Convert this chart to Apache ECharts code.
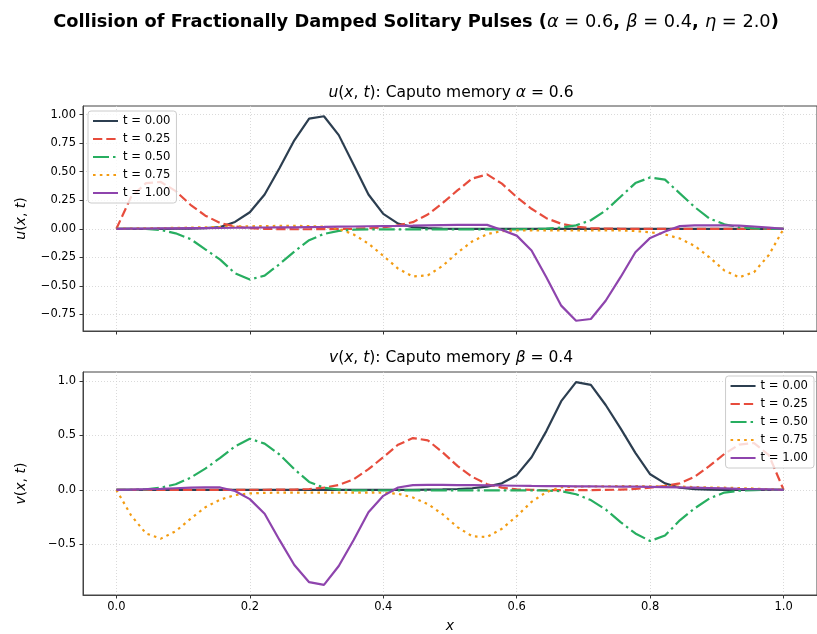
<!DOCTYPE html>
<html>
<head>
<meta charset="utf-8">
<script src="https://cdn.jsdelivr.net/npm/echarts@6.0.0/dist/echarts.min.js"></script>
<style>
    html, body {margin: 0; padding: 0; background: #fff;}
    #chart {width: 817px; height: 634px;}
</style>
</head>
<body>
<div id="chart"></div>
<script>
var FONT = 'DejaVu Sans';

// x grid (46 points on [0, 1])
var xGrid = [0, 0.0222, 0.0444, 0.0667, 0.0889, 0.1111, 0.1333, 0.1556, 0.1778, 0.2,
    0.2222, 0.2444, 0.2667, 0.2889, 0.3111, 0.3333, 0.3556, 0.3778, 0.4, 0.4222,
    0.4444, 0.4667, 0.4889, 0.5111, 0.5333, 0.5556, 0.5778, 0.6, 0.6222, 0.6444,
    0.6667, 0.6889, 0.7111, 0.7333, 0.7556, 0.7778, 0.8, 0.8222, 0.8444, 0.8667,
    0.8889, 0.9111, 0.9333, 0.9556, 0.9778, 1];

var tLabels = ['t = 0.00', 't = 0.25', 't = 0.50', 't = 0.75', 't = 1.00'];

// u(x,t)
var uT000 = [0, 0, 0, 0, 0.001, 0.002, 0.005, 0.015, 0.06, 0.145,
    0.30, 0.53, 0.775, 0.965, 0.985, 0.82, 0.56, 0.30, 0.13, 0.045,
    0.015, 0.005, 0.002, 0, 0, 0, 0, 0, 0, 0,
    0, 0, 0, 0, 0, 0, 0, 0, 0, 0,
    0, 0, 0, 0, 0, 0];
var uT025 = [0, 0.28, 0.40, 0.41, 0.33, 0.21, 0.115, 0.05, 0.02, 0.005,
    0, -0.003, -0.004, -0.004, -0.003, -0.002, 0, 0.004, 0.012, 0.03,
    0.058, 0.125, 0.225, 0.336, 0.44, 0.476, 0.395, 0.277, 0.175, 0.093,
    0.044, 0.018, 0.006, 0.002, 0, 0, 0, 0, 0, 0,
    0, 0, 0, 0, 0, 0];
var uT050 = [0, 0, -0.002, -0.01, -0.04, -0.09, -0.18, -0.27, -0.39, -0.445,
    -0.41, -0.31, -0.20, -0.10, -0.045, -0.018, -0.008, -0.005, -0.005, -0.005,
    -0.005, -0.005, -0.005, -0.005, -0.005, -0.005, -0.005, -0.005, -0.003, 0.002,
    0.01, 0.03, 0.075, 0.16, 0.28, 0.40, 0.45, 0.43, 0.31, 0.19,
    0.09, 0.04, 0.012, 0.003, 0, 0];
var uT075 = [0, 0.002, 0.004, 0.006, 0.008, 0.01, 0.013, 0.016, 0.02, 0.022,
    0.024, 0.025, 0.025, 0.024, 0.018, 0, -0.05, -0.13, -0.237, -0.349,
    -0.418, -0.408, -0.325, -0.21, -0.111, -0.047, -0.02, -0.015, -0.015, -0.015,
    -0.015, -0.015, -0.015, -0.015, -0.015, -0.02, -0.03, -0.05, -0.085, -0.15,
    -0.25, -0.365, -0.425, -0.38, -0.23, 0];
var uT100 = [0, 0.001, 0.002, 0.003, 0.004, 0.005, 0.006, 0.007, 0.009, 0.01,
    0.011, 0.012, 0.013, 0.015, 0.016, 0.018, 0.02, 0.022, 0.024, 0.025,
    0.027, 0.03, 0.032, 0.034, 0.035, 0.034, -0.01, -0.06, -0.19, -0.425,
    -0.673, -0.805, -0.79, -0.63, -0.424, -0.205, -0.08, -0.024, 0.023, 0.03,
    0.03, 0.03, 0.028, 0.02, 0.01, 0];

// v(x,t)
var vT000 = [0, 0, 0, 0, 0, 0, 0, 0, 0, 0,
    0, 0, 0, 0, 0, 0, 0, 0, 0, 0,
    0, 0.002, 0.004, 0.008, 0.015, 0.03, 0.06, 0.135, 0.30, 0.54,
    0.815, 0.99, 0.965, 0.78, 0.565, 0.34, 0.143, 0.06, 0.02, 0.006,
    0.002, 0, 0, 0, 0, 0];
var vT025 = [0, 0, 0, 0, 0, 0, 0, 0, 0, 0.001,
    0.001, 0.002, 0.003, 0.008, 0.02, 0.045, 0.097, 0.19, 0.30, 0.415,
    0.476, 0.455, 0.345, 0.22, 0.12, 0.052, 0.02, 0.005, 0, -0.003,
    -0.003, -0.003, -0.002, 0, 0.002, 0.008, 0.02, 0.036, 0.06, 0.12,
    0.22, 0.33, 0.415, 0.43, 0.32, 0];
var vT050 = [0, 0.001, 0.005, 0.02, 0.052, 0.112, 0.195, 0.294, 0.40, 0.47,
    0.425, 0.325, 0.19, 0.073, 0.02, 0.003, -0.004, -0.005, -0.005, -0.005,
    -0.005, -0.005, -0.005, -0.005, -0.005, -0.005, -0.005, -0.005, -0.005, -0.006,
    -0.012, -0.04, -0.094, -0.18, -0.296, -0.40, -0.47, -0.42, -0.28, -0.17,
    -0.078, -0.025, -0.008, -0.002, 0, 0];
var vT075 = [0, -0.236, -0.40, -0.448, -0.38, -0.266, -0.16, -0.09, -0.048, -0.033,
    -0.028, -0.025, -0.025, -0.025, -0.025, -0.025, -0.025, -0.025, -0.027, -0.036,
    -0.07, -0.13, -0.224, -0.342, -0.427, -0.433, -0.357, -0.242, -0.11, -0.02,
    0.025, 0.03, 0.032, 0.033, 0.034, 0.034, 0.033, 0.032, 0.03, 0.025,
    0.022, 0.02, 0.016, 0.012, 0.006, 0];
var vT100 = [0, 0.003, 0.006, 0.01, 0.015, 0.02, 0.024, 0.022, -0.01, -0.085,
    -0.22, -0.46, -0.69, -0.848, -0.873, -0.70, -0.46, -0.206, -0.055, 0.022,
    0.043, 0.045, 0.045, 0.044, 0.043, 0.042, 0.04, 0.038, 0.036, 0.035,
    0.034, 0.033, 0.032, 0.031, 0.03, 0.029, 0.027, 0.025, 0.022, 0.02,
    0.017, 0.014, 0.01, 0.007, 0.004, 0];

var uSets = [uT000, uT025, uT050, uT075, uT100];
var vSets = [vT000, vT025, vT050, vT075, vT100];

// tick values
var xTicks = [0, 0.2, 0.4, 0.6, 0.8, 1.0];
var uTicks = [-0.75, -0.5, -0.25, 0, 0.25, 0.5, 0.75, 1.0];
var vTicks = [-0.5, 0, 0.5, 1.0];

// line styles per t
var colors = ['#2c3e50', '#e74c3c', '#27ae60', '#f39c12', '#8e44ad'];
var dashes = ['solid', [9.3, 4], [16, 4, 2.5, 4], [2.6, 4.2], 'solid'];

var mathRich = {
    m: {fontFamily: FONT, fontStyle: 'italic', fontWeight: 'normal', fontSize: 15.5, color: '#000'},
    r: {fontFamily: FONT, fontWeight: 'normal', fontSize: 15.5, color: '#000'}
};

function minusFmt(d) {
    return function (v) {
        var s = Math.abs(v).toFixed(d);
        return v < 0 ? '\u2212' + s : s;
    };
}

function pairs(arr) {
    var out = [];
    for (var i = 0; i < xGrid.length; i++) {
        out.push([xGrid[i], arr[i]]);
    }
    return out;
}

function xAxisOf(idx, showLabel) {
    return {
        type: 'value',
        gridIndex: idx,
        min: -0.05,
        max: 1.05,
        name: showLabel ? '{m|x}' : '',
        nameLocation: 'middle',
        nameGap: 24,
        nameTextStyle: {rich: {m: {fontFamily: FONT, fontStyle: 'italic', fontSize: 14, color: '#000'}}},
        axisLine: {onZero: false, lineStyle: {color: '#444', width: 1}},
        axisTick: {show: true, length: 3.5, customValues: xTicks, lineStyle: {color: '#333'}},
        axisLabel: {show: showLabel, customValues: xTicks, margin: 6, fontFamily: FONT, fontSize: 11.5, color: '#000',
            formatter: minusFmt(1)},
        splitLine: {show: true, lineStyle: {color: '#d0d0d0', type: [1, 2], width: 0.8}}
    };
}

function yAxisOf(idx, lo, hi, ticks, dec, letter) {
    return {
        type: 'value',
        gridIndex: idx,
        min: lo,
        max: hi,
        name: '{m|' + letter + '}{r|(}{m|x}{r|, }{m|t}{r|)}',
        nameLocation: 'middle',
        nameGap: 55,
        nameTextStyle: {rich: {
            m: {fontFamily: FONT, fontStyle: 'italic', fontSize: 14, color: '#000'},
            r: {fontFamily: FONT, fontSize: 14, color: '#000'}
        }},
        axisLine: {onZero: false, lineStyle: {color: '#444', width: 1}},
        axisTick: {show: true, length: 3.5, customValues: ticks, lineStyle: {color: '#333'}},
        axisLabel: {customValues: ticks, margin: 7, fontFamily: FONT, fontSize: 11.5, color: '#000',
            formatter: minusFmt(dec)},
        splitLine: {show: true, lineStyle: {color: '#d0d0d0', type: [1, 2], width: 0.8}}
    };
}

function legendOf(pos) {
    var lg = {
        orient: 'vertical',
        data: tLabels,
        itemWidth: 25,
        itemHeight: 11,
        itemGap: 6,
        itemTextGap: 8,
        padding: [4, 6, 4, 4],
        backgroundColor: 'rgba(255,255,255,0.8)',
        borderColor: '#cccccc',
        borderWidth: 1,
        borderRadius: 3,
        selectedMode: false,
        itemStyle: {opacity: 0},
        textStyle: {fontFamily: FONT, fontSize: 11.6, color: '#000'}
    };
    for (var k in pos) lg[k] = pos[k];
    return lg;
}

function drawChart() {
    var chart = echarts.init(document.getElementById('chart'), null, {renderer: 'canvas'});
    var series = [];
    for (var i = 0; i < 5; i++) {
        series.push({
            name: tLabels[i], type: 'line', xAxisIndex: 0, yAxisIndex: 0,
            data: pairs(uSets[i]), symbol: 'none', showSymbol: false,
            lineStyle: {color: colors[i], width: 2.2, type: dashes[i], cap: 'butt'},
            itemStyle: {color: colors[i]}
        });
    }
    for (var j = 0; j < 5; j++) {
        series.push({
            name: tLabels[j], type: 'line', xAxisIndex: 1, yAxisIndex: 1,
            data: pairs(vSets[j]), symbol: 'none', showSymbol: false,
            lineStyle: {color: colors[j], width: 2.2, type: dashes[j], cap: 'butt'},
            itemStyle: {color: colors[j]}
        });
    }

    var option = {
        animation: false,
        backgroundColor: '#fff',
        title: [
            {
                text: '{b|Collision of Fractionally Damped Solitary Pulses (}{m|\u03b1}{r| = 0.6}{b|, }{m|\u03b2}{r| = 0.4}{b|, }{m|\u03b7}{r| = 2.0}{b|)}',
                left: 416, top: 13, textAlign: 'center', padding: 0,
                textStyle: {fontWeight: 'normal', rich: {
                    b: {fontFamily: FONT, fontWeight: 'bold', fontSize: 17.8, color: '#000'},
                    m: {fontFamily: FONT, fontStyle: 'italic', fontWeight: 'normal', fontSize: 17.8, color: '#000'},
                    r: {fontFamily: FONT, fontWeight: 'normal', fontSize: 17.8, color: '#000'}
                }}
            },
            {
                text: '{m|u}{r|(}{m|x}{r|, }{m|t}{r|): Caputo memory }{m|\u03b1}{r| = 0.6}',
                left: 451, top: 85, textAlign: 'center', padding: 0,
                textStyle: {fontWeight: 'normal', rich: mathRich}
            },
            {
                text: '{m|v}{r|(}{m|x}{r|, }{m|t}{r|): Caputo memory }{m|\u03b2}{r| = 0.4}',
                left: 451, top: 350, textAlign: 'center', padding: 0,
                textStyle: {fontWeight: 'normal', rich: mathRich}
            }
        ],
        legend: [
            legendOf({left: 88, top: 111}),
            legendOf({right: 3, top: 376})
        ],
        grid: [
            {left: 83, top: 106, width: 737, height: 225, show: true, borderColor: '#444', borderWidth: 1},
            {left: 83, top: 372, width: 737, height: 225, show: true, borderColor: '#444', borderWidth: 1}
        ],
        xAxis: [xAxisOf(0, false), xAxisOf(1, true)],
        yAxis: [
            yAxisOf(0, -0.895, 1.075, uTicks, 2, 'u'),
            yAxisOf(1, -0.966, 1.083, vTicks, 1, 'v')
        ],
        series: series
    };
    chart.setOption(option);
}

drawChart();
</script>
</body>
</html>
